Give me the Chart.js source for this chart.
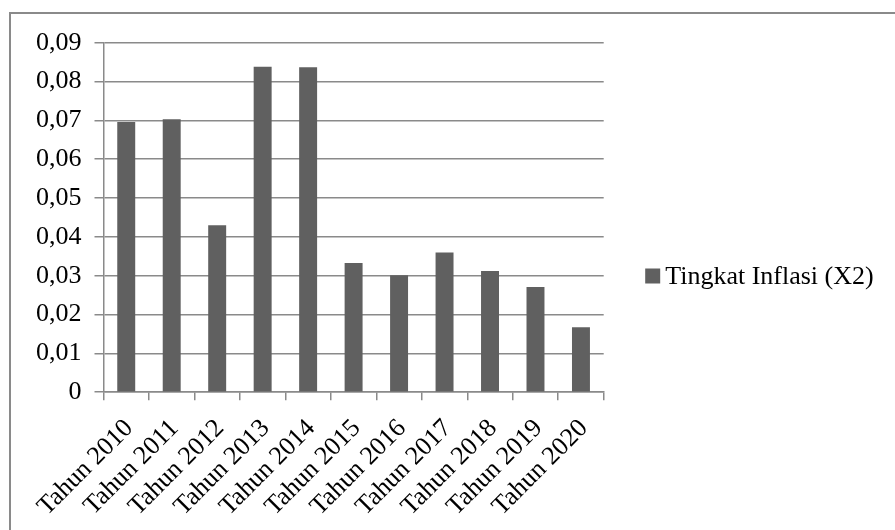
<!DOCTYPE html>
<html>
<head>
<meta charset="utf-8">
<script src="https://cdn.jsdelivr.net/npm/chart.js@4/dist/chart.umd.min.js"></script>
<style>
  html, body { margin: 0; padding: 0; background: #ffffff; }
  #wrap { position: relative; width: 895px; height: 530px; overflow: hidden; }
  #frame { position: absolute; left: 9px; top: 12px; width: 900px; height: 530px;
           border-top: 2px solid #8a8a8a; border-left: 2px solid #8a8a8a; box-sizing: border-box; }
  #c { position: absolute; left: 0; top: 0; }
</style>
</head>
<body>
<div id="wrap">
  <div id="frame"></div>
  <canvas id="c" width="895" height="530"></canvas>
</div>
<script>
const categories = ['Tahun 2010','Tahun 2011','Tahun 2012','Tahun 2013','Tahun 2014','Tahun 2015','Tahun 2016','Tahun 2017','Tahun 2018','Tahun 2019','Tahun 2020'];
const inflasi = [0.0696, 0.0703, 0.0430, 0.0838, 0.0837, 0.0333, 0.0301, 0.0360, 0.0312, 0.0271, 0.0167];
const seriesLabel = 'Tingkat Inflasi (X2)';
const yTickLabels = ['0','0,01','0,02','0,03','0,04','0,05','0,06','0,07','0,08','0,09'];

const FONT = 'Liberation Serif';
const GRID = '#8a8a8a';

// Legend drawn beside the plot (the built-in right legend is width-limited by the layout)
const sideLegend = {
  id: 'sideLegend',
  afterDraw(chart) {
    const ctx = chart.ctx;
    const area = chart.chartArea;
    const ds = chart.data.datasets[0];
    const x = area.right + 41.5;
    const yMid = 276;
    ctx.save();
    ctx.fillStyle = ds.backgroundColor;
    ctx.fillRect(x, yMid - 7.5, 15, 15);
    ctx.fillStyle = '#000000';
    ctx.font = '26px "' + FONT + '"';
    ctx.textBaseline = 'middle';
    ctx.textAlign = 'left';
    ctx.fillText(ds.label, x + 20, yMid + 1);
    ctx.restore();
  }
};

new Chart(document.getElementById('c'), {
  type: 'bar',
  data: {
    labels: categories,
    datasets: [{
      label: seriesLabel,
      data: inflasi,
      backgroundColor: '#606060',
      borderWidth: 0,
      categoryPercentage: 1.0,
      barPercentage: 0.395
    }]
  },
  options: {
    responsive: false,
    animation: false,
    devicePixelRatio: 1,
    layout: { padding: { left: 23, top: 42.7, right: 291.3, bottom: -5.3 } },
    plugins: {
      tooltip: { enabled: false },
      legend: { display: false }
    },
    scales: {
      x: {
        offset: true,
        grid: { display: true, drawOnChartArea: false, offset: true, color: GRID, lineWidth: 1.5, tickLength: 8 },
        border: { display: true, color: GRID, width: 1.5 },
        ticks: {
          font: { family: FONT, size: 26 },
          color: '#000000',
          minRotation: 45,
          maxRotation: 45,
          padding: 13,
          labelOffset: 3,
          autoSkip: false
        }
      },
      y: {
        min: 0,
        max: 0.09,
        grid: { color: GRID, lineWidth: 1.5, tickLength: 9 },
        border: { display: true, color: GRID, width: 1.5 },
        ticks: {
          stepSize: 0.01,
          font: { family: FONT, size: 26 },
          color: '#000000',
          padding: 13,
          callback: (v, i) => yTickLabels[i]
        }
      }
    }
  },
  plugins: [sideLegend]
});
</script>
</body>
</html>
